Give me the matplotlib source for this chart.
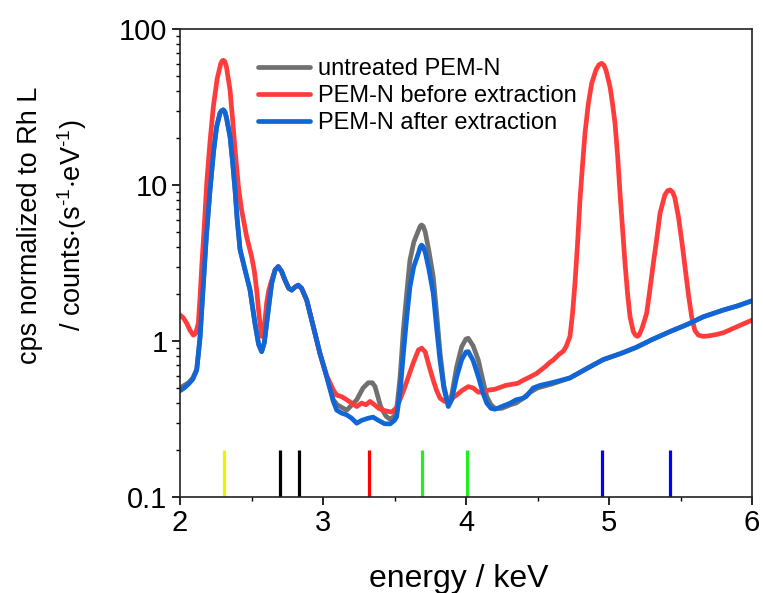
import matplotlib
matplotlib.use("Agg")
import matplotlib.pyplot as plt
from matplotlib.ticker import FixedLocator, NullFormatter, LogLocator

plt.rcParams['font.family'] = ['Liberation Sans', 'DejaVu Sans']
plt.rcParams['mathtext.fontset'] = 'custom'
plt.rcParams['mathtext.rm'] = 'Liberation Sans'
plt.rcParams['mathtext.default'] = 'regular'

# spectrum after extraction (blue)
e_after = [2.00, 2.03, 2.06, 2.09, 2.117, 2.14, 2.163, 2.185, 2.21, 2.235, 2.256, 2.28,
           2.292, 2.303, 2.315, 2.325, 2.35, 2.368, 2.385, 2.40, 2.42, 2.455, 2.49, 2.524,
           2.55, 2.571, 2.59, 2.606, 2.625, 2.641, 2.665, 2.687, 2.71, 2.734, 2.76, 2.781,
           2.805, 2.827, 2.85, 2.886, 2.932, 2.979, 3.026, 3.072, 3.096, 3.13, 3.166, 3.20,
           3.236, 3.27, 3.317, 3.35, 3.387, 3.43, 3.469, 3.50, 3.515, 3.54, 3.562, 3.585,
           3.608, 3.635, 3.667, 3.68, 3.69, 3.70, 3.715, 3.74, 3.771, 3.795, 3.818, 3.845,
           3.876, 3.90, 3.935, 3.97, 4.00, 4.016, 4.05, 4.086, 4.12, 4.145, 4.175, 4.203,
           4.25, 4.31, 4.35, 4.40, 4.42, 4.47, 4.52, 4.60, 4.727, 4.85, 4.96, 5.08,
           5.19, 5.30, 5.427, 5.55, 5.66, 5.80, 5.90, 6.00]
c_after = [0.48, 0.50, 0.53, 0.57, 0.65, 1.05, 2.3, 4.8, 9.3, 16.5, 23.6, 29.0,
           30.0, 30.3, 29.3, 27.0, 20.4, 14.0, 9.3, 6.0, 3.85, 2.85, 2.12, 1.30,
           0.95, 0.855, 0.98, 1.30, 1.8, 2.34, 2.85, 3.0, 2.8, 2.46, 2.18, 2.12,
           2.22, 2.28, 2.18, 1.83, 1.24, 0.83, 0.59, 0.41, 0.36, 0.345, 0.336, 0.32,
           0.297, 0.31, 0.32, 0.325, 0.31, 0.295, 0.294, 0.31, 0.327, 0.48, 0.83, 1.4,
           2.23, 3.0, 3.65, 4.0, 4.12, 4.02, 3.7, 2.9, 2.02, 1.2, 0.755, 0.5,
           0.38, 0.42, 0.59, 0.76, 0.85, 0.855, 0.75, 0.59, 0.46, 0.40, 0.37, 0.365,
           0.38, 0.40, 0.42, 0.43, 0.44, 0.50, 0.52, 0.54, 0.58, 0.67, 0.76, 0.83,
           0.91, 1.02, 1.15, 1.28, 1.43, 1.58, 1.68, 1.81]

# untreated spectrum (grey)
e_untreated = [2.00, 2.03, 2.06, 2.09, 2.117, 2.14, 2.163, 2.185, 2.21, 2.235, 2.256, 2.28,
               2.292, 2.303, 2.315, 2.325, 2.35, 2.368, 2.385, 2.40, 2.42, 2.455, 2.49, 2.524,
               2.55, 2.571, 2.59, 2.606, 2.625, 2.641, 2.665, 2.687, 2.71, 2.734, 2.76, 2.781,
               2.805, 2.827, 2.85, 2.886, 2.932, 2.979, 3.026, 3.072, 3.10, 3.166, 3.236, 3.28,
               3.317, 3.345, 3.364, 3.403, 3.44, 3.469, 3.50, 3.515, 3.54, 3.562, 3.585, 3.608,
               3.635, 3.667, 3.68, 3.69, 3.70, 3.715, 3.74, 3.771, 3.795, 3.818, 3.845, 3.876,
               3.90, 3.935, 3.97, 4.00, 4.016, 4.05, 4.086, 4.12, 4.145, 4.175, 4.203, 4.25,
               4.31, 4.35, 4.40, 4.45, 4.50, 4.60, 4.727, 4.85, 4.96, 5.08, 5.19, 5.30,
               5.427, 5.55, 5.66, 5.80, 5.90, 6.00]
c_untreated = [0.50, 0.52, 0.54, 0.58, 0.66, 1.05, 2.3, 4.8, 9.3, 16.5, 23.6, 29.0,
               30.0, 30.3, 29.3, 27.0, 20.4, 14.0, 9.3, 6.0, 3.85, 2.85, 2.12, 1.30,
               0.95, 0.855, 0.98, 1.30, 1.8, 2.34, 2.85, 3.0, 2.8, 2.46, 2.18, 2.12,
               2.22, 2.28, 2.18, 1.83, 1.24, 0.83, 0.59, 0.42, 0.39, 0.36, 0.42, 0.50,
               0.54, 0.54, 0.51, 0.38, 0.33, 0.315, 0.33, 0.36, 0.6, 1.18, 2.0, 3.3,
               4.3, 5.1, 5.45, 5.54, 5.45, 5.0, 3.8, 2.58, 1.5, 0.85, 0.52, 0.39,
               0.45, 0.685, 0.92, 1.03, 1.04, 0.93, 0.755, 0.55, 0.44, 0.39, 0.37, 0.37,
               0.39, 0.40, 0.43, 0.47, 0.50, 0.53, 0.58, 0.67, 0.76, 0.83, 0.91, 1.02,
               1.15, 1.28, 1.43, 1.58, 1.68, 1.81]

# spectrum before extraction (red)
e_before = [2.00, 2.025, 2.047, 2.07, 2.093, 2.11, 2.128, 2.14, 2.152, 2.17, 2.187, 2.21,
            2.233, 2.26, 2.285, 2.295, 2.303, 2.313, 2.325, 2.35, 2.37, 2.385, 2.41, 2.431,
            2.45, 2.466, 2.501, 2.52, 2.536, 2.555, 2.571, 2.59, 2.606, 2.62, 2.641, 2.665,
            2.687, 2.71, 2.734, 2.76, 2.781, 2.805, 2.827, 2.85, 2.886, 2.932, 2.979, 3.026,
            3.072, 3.096, 3.13, 3.166, 3.20, 3.236, 3.27, 3.30, 3.329, 3.36, 3.39, 3.42,
            3.45, 3.48, 3.51, 3.538, 3.57, 3.597, 3.63, 3.667, 3.69, 3.715, 3.74, 3.771,
            3.795, 3.818, 3.85, 3.876, 3.905, 3.935, 3.97, 4.016, 4.05, 4.086, 4.12, 4.16,
            4.20, 4.28, 4.36, 4.40, 4.45, 4.494, 4.55, 4.587, 4.61, 4.65, 4.68, 4.70,
            4.727, 4.745, 4.762, 4.78, 4.797, 4.815, 4.832, 4.855, 4.879, 4.91, 4.93, 4.949,
            4.965, 4.98, 5.007, 5.025, 5.042, 5.06, 5.077, 5.095, 5.112, 5.13, 5.147, 5.17,
            5.185, 5.198, 5.21, 5.23, 5.263, 5.285, 5.310, 5.335, 5.357, 5.39, 5.41, 5.427,
            5.445, 5.46, 5.485, 5.51, 5.531, 5.555, 5.578, 5.60, 5.625, 5.66, 5.70, 5.75,
            5.80, 5.846, 5.90, 5.95, 6.00]
c_before = [1.47, 1.40, 1.30, 1.17, 1.09, 1.12, 1.30, 1.9, 3.0, 5.5, 10.3, 19.0,
            31.7, 48.0, 60.0, 62.5, 63.0, 62.0, 57.0, 40.6, 25.0, 16.7, 9.5, 6.9,
            5.6, 4.66, 3.47, 2.8, 2.12, 1.4, 1.07, 1.25, 1.75, 2.1, 2.45, 2.85,
            3.0, 2.8, 2.46, 2.18, 2.12, 2.22, 2.28, 2.18, 1.83, 1.24, 0.83, 0.60,
            0.485, 0.45, 0.44, 0.42, 0.40, 0.38, 0.40, 0.39, 0.41, 0.39, 0.37, 0.36,
            0.355, 0.35, 0.37, 0.42, 0.50, 0.59, 0.72, 0.875, 0.90, 0.85, 0.70, 0.56,
            0.48, 0.43, 0.41, 0.41, 0.43, 0.45, 0.48, 0.51, 0.50, 0.47, 0.47, 0.485,
            0.49, 0.52, 0.535, 0.56, 0.59, 0.62, 0.68, 0.73, 0.755, 0.82, 0.86, 0.92,
            1.07, 1.5, 2.34, 4.2, 8.0, 13.5, 21.4, 33.0, 44.9, 55.0, 59.0, 60.3,
            58.5, 54.0, 42.7, 33.0, 24.9, 15.5, 8.85, 5.2, 3.15, 2.0, 1.43, 1.15,
            1.09, 1.07, 1.09, 1.2, 1.50, 2.1, 3.15, 4.6, 6.6, 8.6, 9.2, 9.3,
            9.0, 8.3, 6.3, 4.3, 3.0, 2.0, 1.43, 1.17, 1.09, 1.07, 1.08, 1.10,
            1.13, 1.18, 1.24, 1.30, 1.36]

# characteristic line positions (keV) and their colours
line_energies = [2.31, 2.70, 2.83, 3.32, 3.69, 4.01, 4.95, 5.43]
line_colors = ['#f2f200', 'black', 'black', '#ff0000', '#22ee22', '#22ee22', '#0000ff', '#0000ff']

fig = plt.figure(figsize=(7.63, 5.93), dpi=100)
ax = fig.add_axes([180 / 763, 1 - 497 / 593, 572 / 763, 468 / 593])

ax.plot(e_untreated, c_untreated, color='#707070', lw=3.4, label='untreated PEM-N',
        solid_joinstyle='round', solid_capstyle='round')
ax.plot(e_before, c_before, color='#ff3c3c', lw=3.4, label='PEM-N before extraction',
        solid_joinstyle='round', solid_capstyle='round')
ax.plot(e_after, c_after, color='#1066d6', lw=3.4, label='PEM-N after extraction',
        solid_joinstyle='round', solid_capstyle='round')

ax.vlines(line_energies, 0.1, 0.2, colors=line_colors, lw=2.3)

ax.set_yscale('log')
ax.set_xlim(2, 6)
ax.set_ylim(0.1, 100)
ax.set_xticks([2, 3, 4, 5, 6])
ax.set_xticklabels(['2', '3', '4', '5', '6'])
ax.xaxis.set_minor_locator(FixedLocator([2.5, 3.5, 4.5, 5.5]))
ax.set_yticks([0.1, 1, 10, 100])
ax.set_yticklabels(['0.1', '1', '10', '100'])
ax.yaxis.set_minor_locator(LogLocator(base=10, subs=range(2, 10)))
ax.yaxis.set_minor_formatter(NullFormatter())

ax.tick_params(which='major', direction='out', length=6, width=1.2, labelsize=21, pad=2.5)
ax.tick_params(which='minor', direction='out', length=3, width=1.0)
ax.tick_params(axis='y', which='major', pad=3)
for s in ax.spines.values():
    s.set_linewidth(1.2)
    s.set_color('#222222')

fig.text(53 / 763, 1 - 225 / 593,
         'cps normalized to Rh L\n/ counts$\\cdot$(s$^{\\text{-1}}$$\\cdot$eV$^{\\text{-1}}$)',
         rotation=90, ha='center', va='center', multialignment='center', fontsize=19.5, linespacing=1.45)
fig.text(459 / 763, 1 - 587 / 593, 'energy / keV', ha='center', va='baseline', fontsize=23)

ax.legend(loc='upper left', bbox_to_anchor=(78 / 572, 0.938), frameon=False, fontsize=17,
          handlelength=2.2, handletextpad=0.35, labelspacing=0.22, borderpad=0, borderaxespad=0)

fig.savefig('out.png', dpi=100)
